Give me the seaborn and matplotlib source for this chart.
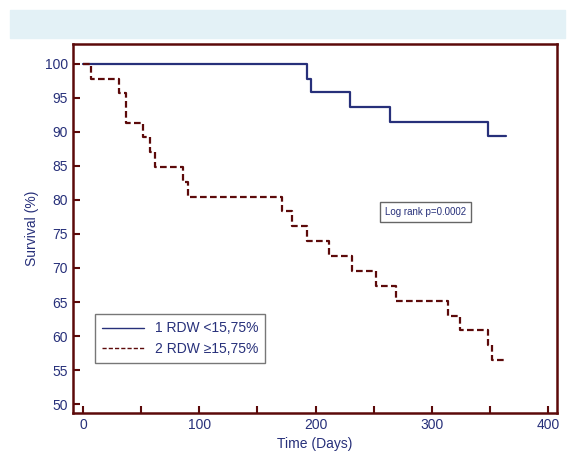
import matplotlib
matplotlib.use("Agg")
import matplotlib.pyplot as plt
import seaborn as sns
import pandas as pd
from matplotlib.patches import Rectangle
from matplotlib.ticker import MultipleLocator

g1_t = [0, 193, 196, 230, 264, 348, 364]
g1_s = [100, 97.8, 95.8, 93.6, 91.5, 89.4, 89.4]
g2_t = [0, 7, 31, 37, 52, 58, 62, 86, 90, 171, 180, 193, 212, 231, 252, 269, 314, 324, 348, 352, 364]
g2_s = [100, 97.8, 95.7, 91.3, 89.2, 87.0, 84.8, 82.6, 80.4, 78.3, 76.1, 73.9, 71.7,
        69.6, 67.4, 65.2, 63.0, 60.9, 58.7, 56.5, 56.5]
labels = ["1 RDW <15,75%", "2 RDW \u226515,75%"]

df = pd.concat([
    pd.DataFrame({"t": g1_t, "s": g1_s, "g": labels[0]}),
    pd.DataFrame({"t": g2_t, "s": g2_s, "g": labels[1]}),
])

sns.set_style("white")
plt.rcParams["font.family"] = ["Liberation Sans", "DejaVu Sans"]
navy = "#27307a"
maroon = "#5c0a0a"

fig = plt.figure(figsize=(5.67, 4.70), dpi=100)
fig.patches.append(Rectangle((10 / 567, 1 - 38 / 470), 555 / 567, 28 / 470,
                             transform=fig.transFigure, color="#e3f1f6", zorder=0))
ax = fig.add_axes([73 / 567, 1 - 413 / 470, 484 / 567, 369 / 470])

sns.lineplot(data=df, x="t", y="s", hue="g", style="g", drawstyle="steps-post",
             palette=[navy, maroon], dashes=[(None, None), (3, 1.5)], linewidth=1.6,
             ax=ax, estimator=None, legend=False)

ax.set_xlim(-8.6, 407.7)
ax.set_ylim(48.7, 102.9)
ax.set_yticks(range(50, 101, 5))
ax.set_xticks(range(0, 401, 100))
ax.xaxis.set_minor_locator(MultipleLocator(50))
for sp in ax.spines.values():
    sp.set_color(maroon)
    sp.set_linewidth(1.8)
ax.tick_params(axis="x", which="both", direction="in", colors=maroon, labelcolor=navy,
               length=5, width=1.5, bottom=True, labelsize=10)
ax.tick_params(axis="y", direction="in", colors=maroon, labelcolor=navy,
               length=5, width=1.5, left=True, labelsize=10)
ax.set_xlabel("Time (Days)", color=navy, fontsize=10)
ax.set_ylabel("Survival (%)", color=navy, fontsize=10)

ax.plot([], [], color=navy, lw=1, label=labels[0])
ax.plot([], [], color=maroon, lw=1, ls=(0, (3, 1.5)), label=labels[1])
leg = ax.legend(loc="lower left", bbox_to_anchor=(0.031, 0.116), frameon=True, fancybox=False,
                fontsize=10, handlelength=3, labelcolor=navy, borderpad=0.5)
leg.get_frame().set_edgecolor("#555555")
leg.get_frame().set_linewidth(1)

ax.text(0.729, 0.545, "Log rank p=0.0002", transform=ax.transAxes, ha="center", va="center",
        fontsize=7, color=navy,
        bbox=dict(boxstyle="square,pad=0.5", fc="white", ec="#666666", lw=1))

fig.savefig("out.png", dpi=100)
